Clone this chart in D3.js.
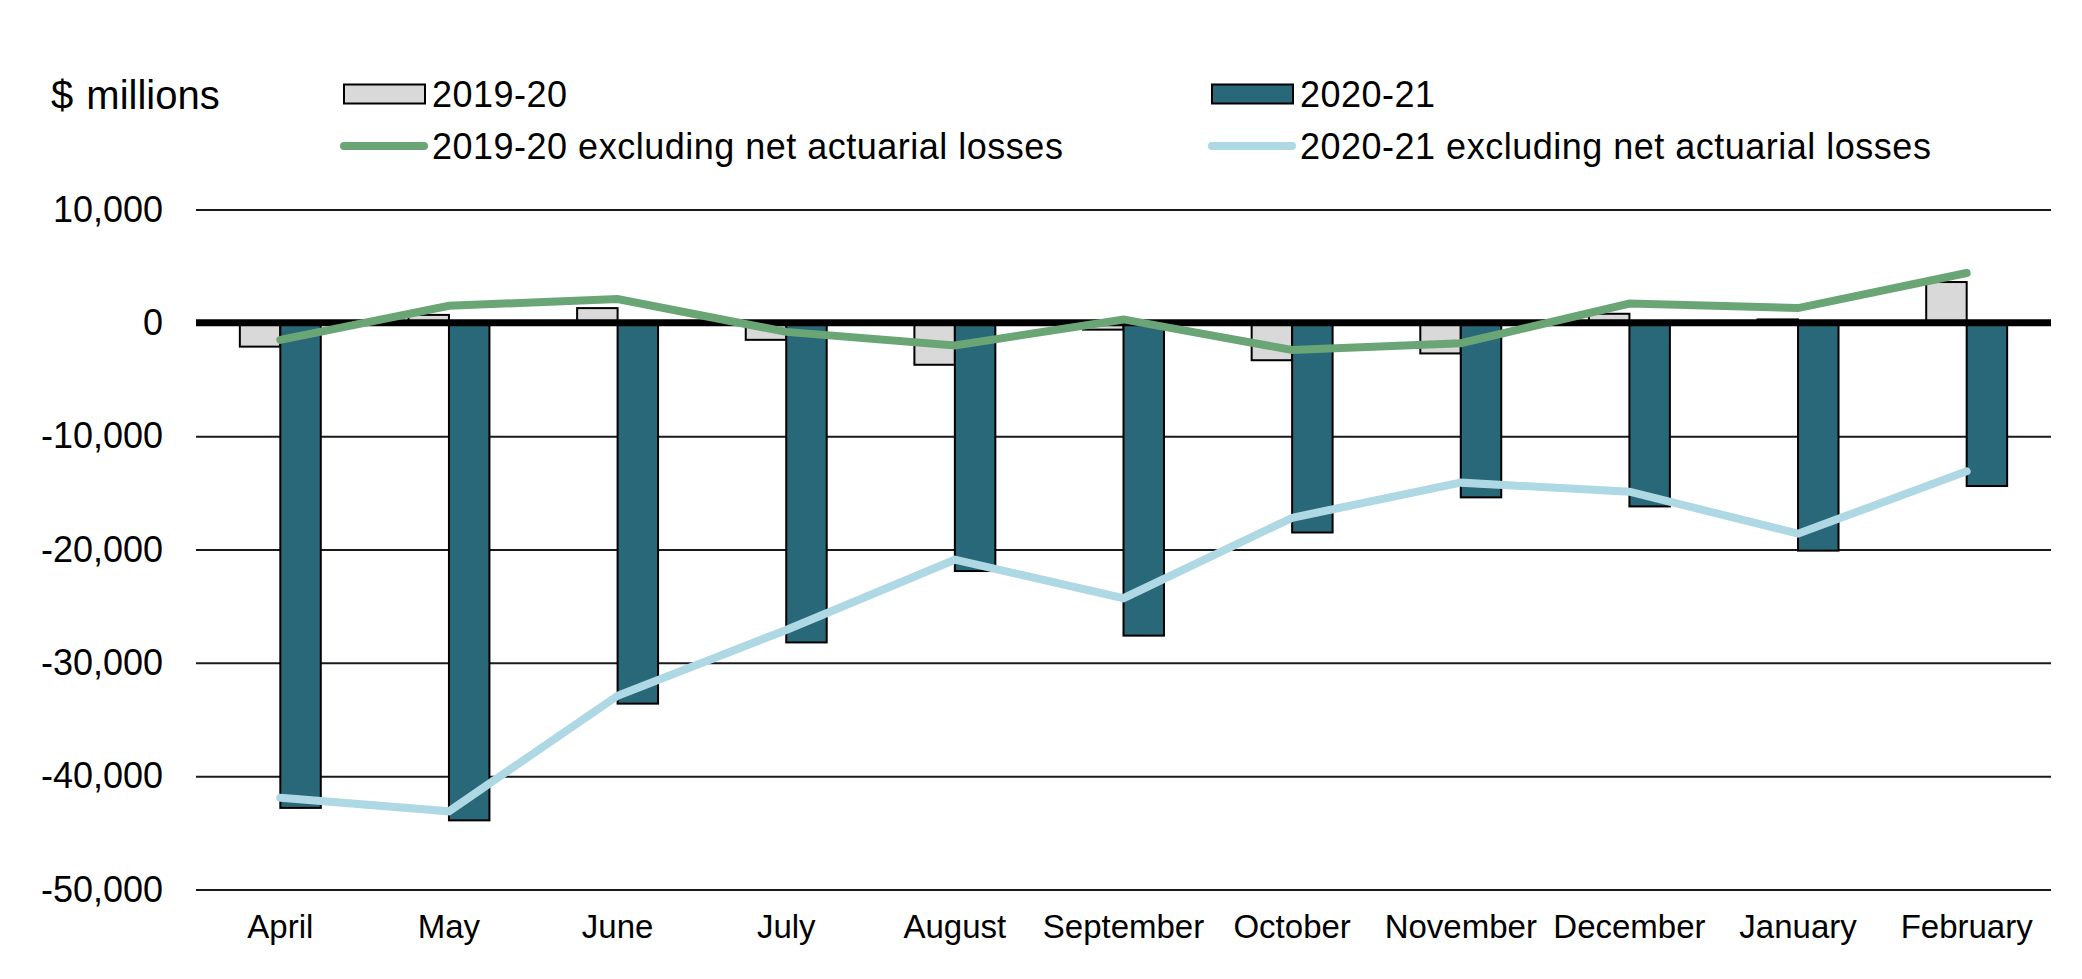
<!DOCTYPE html>
<html>
<head>
<meta charset="utf-8">
<script src="https://cdn.jsdelivr.net/npm/d3@7"></script>
<style>
  body { margin: 0; background: #fff; }
  svg { display: block; }
  text { font-family: Arial, "Liberation Sans", sans-serif; fill: #000; }
</style>
</head>
<body>
<svg id="chart" width="2082" height="979"></svg>
<script>
// ---- data ----
const months = ["April", "May", "June", "July", "August", "September", "October", "November", "December", "January", "February"];
const values1920 = [-2100, 700, 1300, -1500, -3700, -600, -3300, -2700, 800, 300, 3600];
const values2021 = [-42800, -43900, -33600, -28200, -21900, -27600, -18500, -15400, -16200, -20100, -14400];
const excl1920 = [-1500, 1500, 2100, -800, -2000, 300, -2400, -1800, 1700, 1300, 4400];
const excl2021 = [-41900, -43100, -32900, -27100, -20900, -24300, -17200, -14100, -14900, -18600, -13100];
const yTicks = [10000, 0, -10000, -20000, -30000, -40000, -50000];
const barSeries = ["2019-20", "2020-21"];
const lineSeries = ["2019-20 excluding net actuarial losses", "2020-21 excluding net actuarial losses"];
const unitLabel = "$ millions";

// ---- styles ----
const barColors = ["#d9d9d9", "#296878"];
const lineColors = ["#6aa576", "#add8e4"];

const svg = d3.select("#chart");
const mLeft = 196, mRight = 2051, mTop = 209.5, mBottom = 889.5;

const x0 = d3.scaleBand().domain(months).range([mLeft, mRight]).paddingInner(0.52).paddingOuter(0.26);
const x1 = d3.scaleBand().domain(barSeries).range([0, x0.bandwidth()]);
const y = d3.scaleLinear().domain([-50000, 10000]).range([mBottom, mTop]);

const locale = d3.formatLocale({ decimal: ".", thousands: ",", grouping: [3], currency: ["$", ""], minus: "-" });
const fmt = locale.format(",");

// gridlines + y labels
const yAxis = d3.axisLeft(y).tickValues(yTicks).tickFormat(fmt).tickSize(-(mRight - mLeft)).tickPadding(33);
const gy = svg.append("g").attr("transform", `translate(${mLeft},0)`).call(yAxis);
gy.select(".domain").remove();
gy.selectAll(".tick line").attr("stroke", "#1a1a1a").attr("stroke-width", 2);
gy.selectAll(".tick text").attr("font-size", 36).attr("fill", "#000");

// x labels
const xAxis = d3.axisBottom(x0).tickSize(0).tickPadding(25);
const gx = svg.append("g").attr("transform", `translate(0,${mBottom})`).call(xAxis);
gx.select(".domain").remove();
gx.selectAll(".tick text").attr("font-size", 33).attr("fill", "#000");

// bars
const barData = [values1920, values2021];
const groups = svg.append("g").selectAll("g").data(months).join("g")
  .attr("transform", d => `translate(${x0(d)},0)`);
groups.selectAll("rect")
  .data((m, i) => barSeries.map((s, k) => ({ s, k, v: barData[k][i] })))
  .join("rect")
  .attr("x", d => x1(d.s))
  .attr("width", x1.bandwidth())
  .attr("y", d => y(Math.max(0, d.v)))
  .attr("height", d => Math.abs(y(d.v) - y(0)))
  .attr("fill", d => barColors[d.k])
  .attr("stroke", "#000")
  .attr("stroke-width", 2);

// zero line
svg.append("line")
  .attr("x1", mLeft).attr("x2", mRight)
  .attr("y1", y(0)).attr("y2", y(0))
  .attr("stroke", "#000").attr("stroke-width", 7);

// lines
const lineData = [excl1920, excl2021];
const line = d3.line()
  .x((d, i) => x0(months[i]) + x0.bandwidth() / 2)
  .y(d => y(d));
lineData.forEach((arr, k) => {
  svg.append("path")
    .datum(arr)
    .attr("d", line)
    .attr("fill", "none")
    .attr("stroke", lineColors[k])
    .attr("stroke-width", 8)
    .attr("stroke-linecap", "round")
    .attr("stroke-linejoin", "miter");
});

// unit label
svg.append("text").attr("x", 51).attr("y", 95).attr("dy", "0.35em")
  .attr("font-size", 40).attr("word-spacing", 2).text(unitLabel);

// legend
const legX = [344, 1212];
const row1 = 94, row2 = 146;
barSeries.forEach((s, k) => {
  svg.append("rect").attr("x", legX[k]).attr("y", row1 - 9.5).attr("width", 81).attr("height", 19)
    .attr("fill", barColors[k]).attr("stroke", "#000").attr("stroke-width", 2);
  svg.append("text").attr("x", legX[k] + 88).attr("y", row1).attr("dy", "0.35em")
    .attr("font-size", 36).attr("letter-spacing", 0.5).text(s);
});
lineSeries.forEach((s, k) => {
  svg.append("line").attr("x1", legX[k]).attr("x2", legX[k] + 80).attr("y1", row2).attr("y2", row2)
    .attr("stroke", lineColors[k]).attr("stroke-width", 8).attr("stroke-linecap", "round");
  svg.append("text").attr("x", legX[k] + 88).attr("y", row2).attr("dy", "0.35em")
    .attr("font-size", 36).attr("letter-spacing", 0.5).text(s);
});
</script>
</body>
</html>
